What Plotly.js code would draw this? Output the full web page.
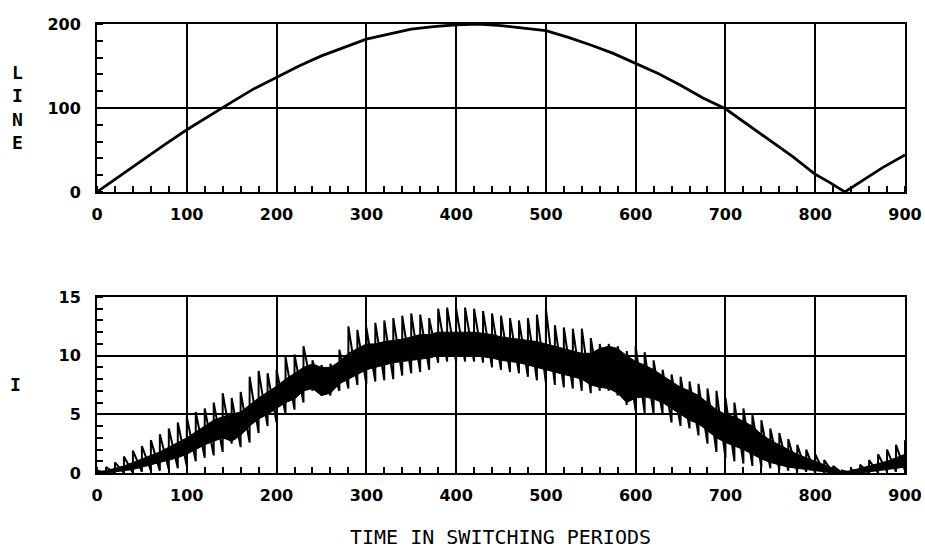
<!DOCTYPE html>
<html>
<head>
<meta charset="utf-8">
<script src="https://cdn.plot.ly/plotly-3.0.1.min.js"></script>
<style>html,body{margin:0;padding:0;background:#fff}#chart{width:925px;height:552px}</style>
</head>
<body>
<div id="chart"></div>
<script>
// Top panel: LINE voltage (rectified)
const lineT = [0, 25, 50, 75, 100, 125, 150, 175, 200, 225, 250, 275, 300, 325, 350, 375, 400, 425, 450, 475, 500, 525, 550, 575, 600, 625, 650, 675, 700, 725, 750, 775, 800, 815, 833, 850, 875, 900];
const lineV = [0, 19, 37, 56, 74, 91, 107, 123, 137, 150, 162, 172, 182, 188, 194, 197, 199, 200, 198, 195, 192, 184, 175, 165, 153, 141, 127, 112, 99, 80, 61, 42, 21, 12, 0, 12, 29, 44];

// Bottom panel: current I, read every 10 switching periods
const iT = [0,10,20,30,40,50,60,70,80,90,100,110,120,130,140,150,160,170,180,190,200,210,220,230,240,250,260,270,280,290,300,310,320,330,340,350,360,370,380,390,400,410,420,430,440,450,460,470,480,490,500,510,520,530,540,550,560,570,580,590,600,610,620,630,640,650,660,670,680,690,700,710,720,730,740,750,760,770,780,790,800,810,820,830,840,850,860,870,880,890,900];
// spike tops
const iTop = [0.2,0.5,0.9,1.4,1.9,2.3,2.8,3.3,3.8,4.3,4.8,5.2,5.5,6.0,6.8,6.4,6.9,8.2,8.7,8.5,8.8,9.9,10.1,10.8,9.6,9.2,9.3,10.5,12.5,12.2,12.4,12.8,13.0,13.2,13.4,13.6,13.5,13.2,14.0,14.1,14.0,14.1,14.0,13.8,13.6,13.4,13.2,13.0,13.2,13.5,14.0,12.6,12.4,12.3,12.3,11.5,11.0,11.0,10.8,10.4,10.8,10.3,9.6,8.8,8.4,8.2,7.8,7.6,7.2,7.0,6.4,6.0,5.5,5.0,4.5,3.8,3.4,2.9,2.4,2.0,1.6,1.1,0.6,0.2,0.3,0.7,1.1,1.6,2.0,2.4,2.8];
// spike bottoms
const iBot = [0,0,0,0,0,0.1,0.2,0.2,0.3,0.4,0.6,1.0,1.3,1.5,1.8,2.5,2.2,2.6,3.4,4.0,4.3,5.0,5.4,6.0,7.0,6.6,6.6,7.0,7.2,7.5,7.6,7.8,7.9,8.0,8.3,8.5,8.6,8.8,9.4,9.5,9.5,9.5,9.5,9.4,9.0,8.8,8.6,8.5,8.2,7.9,7.7,7.5,7.3,7.2,7.0,6.8,7.0,7.0,6.6,5.8,5.3,5.1,5.0,5.0,4.3,4.0,3.8,3.2,2.5,1.8,1.3,1.0,0.8,0.6,0.5,0.4,0.3,0.2,0.1,0.1,0,0,0,0,0,0,0,0,0.1,0.1,0.2];
// solid band upper / lower edges
const bandHi = [0.1,0.2,0.4,0.6,0.9,1.2,1.5,1.8,2.2,2.6,3.0,3.5,4.0,4.5,4.8,5.0,5.2,5.8,6.4,6.9,7.4,8.0,8.5,9.0,9.3,9.0,9.0,9.5,10.2,10.6,11.0,11.0,11.2,11.3,11.4,11.6,11.8,11.8,12.0,12.0,12.0,12.0,12.0,11.9,11.8,11.6,11.5,11.4,11.3,11.2,11.0,10.8,10.6,10.4,10.2,10.2,10.6,10.8,10.6,10.0,9.5,9.2,8.8,8.3,7.8,7.3,7.0,6.6,6.0,5.4,5.0,4.8,4.4,4.0,3.3,2.8,2.4,2.0,1.6,1.3,1.0,0.7,0.4,0.1,0.2,0.4,0.6,0.8,1.0,1.3,1.6];
const bandLo = [0,0,0.1,0.2,0.3,0.5,0.7,0.9,1.1,1.3,1.6,2.0,2.4,2.7,3.0,2.7,3.2,4.0,4.6,5.0,5.5,6.0,6.3,7.0,7.2,6.6,6.8,7.6,8.0,8.4,8.8,9.0,9.2,9.4,9.5,9.6,9.7,9.8,10.0,10.0,10.0,10.0,10.0,9.9,9.8,9.6,9.5,9.4,9.2,9.0,8.8,8.6,8.4,8.2,8.0,7.5,7.3,7.2,6.8,6.0,6.4,6.5,6.3,6.0,5.5,5.0,4.5,4.2,3.6,3.0,2.6,2.3,2.0,1.6,1.2,0.9,0.7,0.5,0.4,0.3,0.2,0.1,0,0,0,0,0.1,0.2,0.3,0.4,0.5];

const xTicks = [0,100,200,300,400,500,600,700,800,900];

// ripple path: rise at each sample from bottom to top
const rx = [], ry = [];
iT.forEach((t, k) => { rx.push(t, t); ry.push(iBot[k], iTop[k]); });

const FONT = "DejaVu Sans, Arial, sans-serif";
const MONO = "DejaVu Sans Mono, monospace";
const ink = "#000";

const traces = [
  {x: lineT, y: lineV, xaxis: 'x', yaxis: 'y', mode: 'lines', line: {color: ink, width: 2.8}, hoverinfo: 'skip'},
  {x: iT, y: bandLo, xaxis: 'x2', yaxis: 'y2', mode: 'lines', line: {color: ink, width: 1}, hoverinfo: 'skip'},
  {x: iT, y: bandHi, xaxis: 'x2', yaxis: 'y2', mode: 'lines', fill: 'tonexty', fillcolor: ink, line: {color: ink, width: 1}, hoverinfo: 'skip'},
  {x: rx, y: ry, xaxis: 'x2', yaxis: 'y2', mode: 'lines', line: {color: ink, width: 2}, hoverinfo: 'skip'}
];

const TICKFONT = {family: FONT, size: 16, color: ink, weight: 'bold'};
const xBase = {
  range: [0, 900], tickvals: xTicks, ticktext: xTicks.map(String),
  showgrid: true, gridcolor: ink, gridwidth: 2, zeroline: false,
  showline: true, linecolor: ink, linewidth: 2, mirror: true,
  ticks: '', ticklabelstandoff: 7,
  tickfont: TICKFONT,
  minor: {dtick: 20, tick0: 0, ticks: 'inside', ticklen: 6, tickwidth: 2, tickcolor: ink, showgrid: false}
};
const yBase = {
  showgrid: true, gridcolor: ink, gridwidth: 2, zeroline: false,
  showline: true, linecolor: ink, linewidth: 2, mirror: true,
  ticks: '', ticklabelstandoff: 11,
  tickfont: TICKFONT
};

const layout = {
  width: 925, height: 552,
  margin: {l: 97, r: 20, t: 24, b: 79},
  paper_bgcolor: '#fff', plot_bgcolor: '#fff',
  showlegend: false,
  xaxis: Object.assign({}, xBase, {domain: [0, 1], anchor: 'y'}),
  yaxis: Object.assign({}, yBase, {domain: [0.626, 1], anchor: 'x', range: [0, 200], tickvals: [0, 100, 200],
    minor: {dtick: 20, tick0: 0, ticks: 'inside', ticklen: 6, tickwidth: 2, tickcolor: ink, showgrid: false}}),
  xaxis2: Object.assign({}, xBase, {domain: [0, 1], anchor: 'y2'}),
  yaxis2: Object.assign({}, yBase, {domain: [0, 0.392], anchor: 'x2', range: [0, 15], tickvals: [0, 5, 10, 15],
    minor: {dtick: 1, tick0: 0, ticks: 'inside', ticklen: 6, tickwidth: 2, tickcolor: ink, showgrid: false}}),
  annotations: [
    {text: 'L<br>I<br>N<br>E', xref: 'paper', yref: 'paper', x: -0.099, y: 0.813, xanchor: 'center', yanchor: 'middle',
     showarrow: false, font: {family: MONO, size: 18, color: ink, weight: 'bold'}},
    {text: 'I', xref: 'paper', yref: 'paper', x: -0.101, y: 0.196, xanchor: 'center', yanchor: 'middle',
     showarrow: false, font: {family: MONO, size: 18, color: ink, weight: 'bold'}},
    {text: 'TIME IN SWITCHING PERIODS', xref: 'paper', yref: 'paper', x: 0.499, y: -0.1425, xanchor: 'center', yanchor: 'middle',
     showarrow: false, font: {family: MONO, size: 20, color: ink}}
  ]
};

Plotly.newPlot('chart', traces, layout, {displayModeBar: false, staticPlot: true});
</script>
</body>
</html>
